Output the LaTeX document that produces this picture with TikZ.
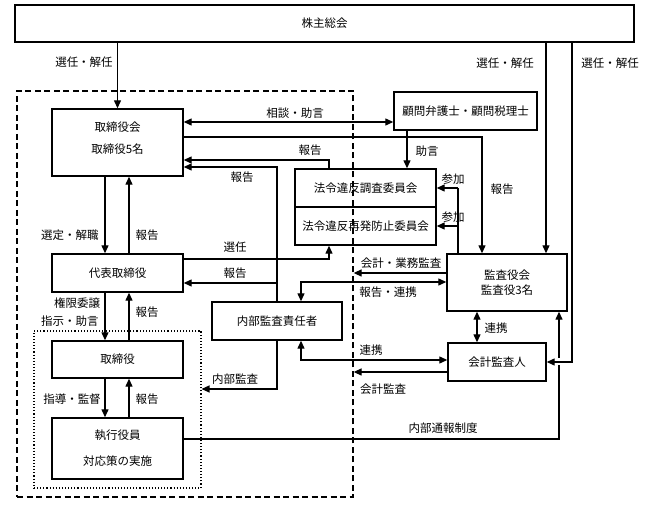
\documentclass[tikz,border=0pt]{standalone}
\usepackage{fontspec}
\setmainfont{Noto Sans CJK JP}
\usetikzlibrary{arrows.meta}
\begin{document}
\begin{tikzpicture}[x=1pt,y=-1pt,
  box/.style={draw, line width=1.4pt, inner sep=0pt, align=center, font=\fontsize{11.5}{13}\selectfont},
  lbl/.style={inner sep=0pt, font=\fontsize{11.5}{13}\selectfont},
  conn/.style={line width=1.3pt},
  arr/.style={conn, -{Triangle[length=8pt,width=7pt]}},
  darr/.style={conn, {Triangle[length=8pt,width=7pt]}-{Triangle[length=8pt,width=7pt]}}
]
\useasboundingbox[fill=white] (0,0) rectangle (646,529);

% grouping frames
\node[draw, dashed, dash pattern=on 6pt off 3.5pt, line width=1.3pt, minimum width=336pt, minimum height=406pt, inner sep=0pt] (dash) at (185,294) {};
\node[draw, dotted, line width=1.1pt, minimum width=167pt, minimum height=157pt, inner sep=0pt] (dot) at (117.5,409.5) {};

% boxes
\node[box, minimum width=619pt, minimum height=37pt] (kabu) at (324.5,23.5) {株主総会};
\node[box, minimum width=131pt, minimum height=67pt] (torikai) at (117.5,142.5) {取締役会\\[9pt]取締役5名\\[-4pt]\mbox{}};
\node[box, minimum width=131pt, minimum height=38pt] (daihyo) at (117.5,273) {代表取締役};
\node[box, minimum width=131pt, minimum height=37pt] (tori) at (117.5,359.5) {取締役};
\node[box, minimum width=131pt, minimum height=61pt] (shikko) at (117.5,448.5) {執行役員\\[13pt]対応策の実施};
\node[box, minimum width=143pt, minimum height=38pt] (komon) at (465.5,111) {顧問弁護士・顧問税理士};
\node[box, minimum width=141pt, minimum height=38pt] (hourei1) at (365.5,188) {法令違反調査委員会};
\node[box, minimum width=141pt, minimum height=38pt] (hourei2) at (365.5,226) {法令違反再発防止委員会};
\node[box, minimum width=130pt, minimum height=38pt] (naibu) at (277,321) {内部監査責任者};
\node[box, minimum width=120pt, minimum height=57pt] (kansa) at (507,282.5) {監査役会\\[2pt]監査役3名};
\node[box, minimum width=98pt, minimum height=38pt] (kaikei) at (497,362) {会計監査人};

% helper coordinates
\coordinate (x105) at (105,0);
\coordinate (x129) at (129,0);
\coordinate (x301) at (301,0);
\coordinate (x329) at (329,0);
\coordinate (x407) at (407,0);
\coordinate (x458) at (458,0);
\coordinate (x477) at (477,0);
\coordinate (x482) at (482,0);
\coordinate (x546) at (546,0);
\coordinate (x559) at (559,0);
\coordinate (x572) at (572,0);
\coordinate (y122) at (0,122);
\coordinate (y137) at (0,137);
\coordinate (y160) at (0,160);
\coordinate (y167) at (0,167);
\coordinate (y259) at (0,259);
\coordinate (y273) at (0,273);
\coordinate (y282) at (0,282);
\coordinate (y283) at (0,283);
\coordinate (y360) at (0,360);
\coordinate (y372) at (0,372);
\coordinate (y389) at (0,389);
\coordinate (y439) at (0,439);

% from shareholders
\draw[arr] (kabu.south -| torikai.north) -- (torikai.north);
\draw[arr] (x546 |- kabu.south) -- (x546 |- kansa.north);

% whistleblowing line (drawn before the crossing arrow)
\draw[arr] (shikko.east |- y439) -- (x559 |- y439) -- (x559 |- kansa.south);
\draw[arr, preaction={draw=white, line width=7pt, -}] (x572 |- kabu.south) -- (x572 |- kaikei.east) -- (kaikei.east);

% board and advisers
\draw[darr] (torikai.east |- y122) -- (komon.west |- y122);
\draw[arr] (torikai.east |- y137) -- (x482 |- y137) -- (x482 |- kansa.north);
\draw[arr] (komon.south -| x407) -- (hourei1.north -| x407);
\draw[arr] (hourei1.north -| x329) -- (x329 |- y160) -- (torikai.east |- y160);
\draw[arr] (naibu.north) -- (naibu.north |- y167) -- (torikai.east |- y167);
\draw[arr] (naibu.north |- y283) -- (daihyo.east |- y283);
\draw[arr] (daihyo.east |- y259) -- (x329 |- y259) -- (x329 |- hourei2.south);

% participation
\draw[conn] (kansa.north -| x458) -- (x458 |- hourei1.east);
\draw[arr] (x458 |- hourei1.east) -- (hourei1.east);
\draw[arr] (x458 |- hourei2.east) -- (hourei2.east);

% audits
\draw[arr] (kansa.west |- y273) -- (dash.east |- y273);
\draw[darr] (kansa.west |- y282) -- (x301 |- y282) -- (x301 |- naibu.north);
\draw[darr] (kansa.south -| x477) -- (kaikei.north -| x477);
\draw[darr] (naibu.south -| x301) -- (x301 |- y360) -- (kaikei.west |- y360);
\draw[arr] (kaikei.west |- y372) -- (dash.east |- y372);
\draw[arr] (naibu.south) -- (naibu.south |- y389) -- (dot.east |- y389);

% vertical chain
\draw[arr] (torikai.south -| x105) -- (daihyo.north -| x105);
\draw[arr] (daihyo.north -| x129) -- (torikai.south -| x129);
\draw[arr] (daihyo.south -| x105) -- (tori.north -| x105);
\draw[arr] (tori.north -| x129) -- (daihyo.south -| x129);
\draw[arr] (tori.south -| x105) -- (shikko.north -| x105);
\draw[arr] (shikko.north -| x129) -- (tori.south -| x129);

% labels
\node[lbl] (l1) at (84,62) {選任・解任};
\node[lbl] (l2) at (505,63) {選任・解任};
\node[lbl] (l3) at (610,63) {選任・解任};
\node[lbl] (l4) at (295,113) {相談・助言};
\node[lbl] (l5) at (310,150) {報告};
\node[lbl] (l6) at (242,177) {報告};
\node[lbl] (l7) at (427,151) {助言};
\node[lbl] (l8) at (502,189) {報告};
\node[lbl] (l9) at (453,179) {参加};
\node[lbl] (l10) at (453,217) {参加};
\node[lbl] (l11) at (70,235) {選定・解職};
\node[lbl] (l12) at (147,235) {報告};
\node[lbl] (l13) at (235,247) {選任};
\node[lbl] (l14) at (235,273) {報告};
\node[lbl] (l15) at (401,263) {会計・業務監査};
\node[lbl] (l16) at (388,292) {報告・連携};
\node[lbl] (l17) at (77,303) {権限委譲};
\node[lbl] (l18) at (70,321) {指示・助言};
\node[lbl] (l19) at (147,312) {報告};
\node[lbl] (l20) at (496,328) {連携};
\node[lbl] (l21) at (371,350) {連携};
\node[lbl] (l22) at (235,379) {内部監査};
\node[lbl] (l23) at (383,389) {会計監査};
\node[lbl] (l24) at (72,399) {指導・監督};
\node[lbl] (l25) at (147,399) {報告};
\node[lbl] (l26) at (443,428) {内部通報制度};
\end{tikzpicture}
\end{document}
